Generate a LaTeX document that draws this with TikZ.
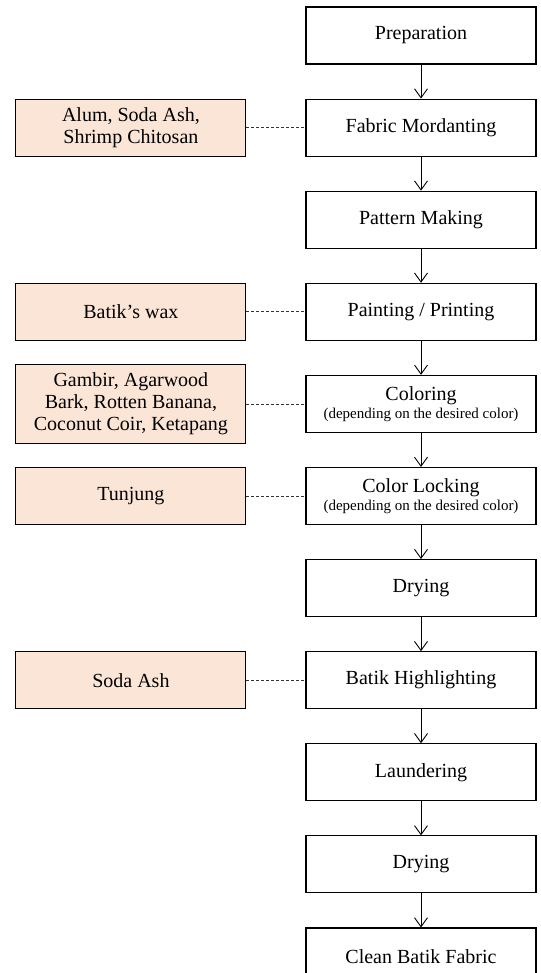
\documentclass[tikz,border=0pt]{standalone}
\usepackage{fontspec}
\setmainfont{Liberation Serif}
\usetikzlibrary{arrows.meta, positioning}

\definecolor{peach}{HTML}{FBE5D6}

\begin{document}
\begin{tikzpicture}
        [
        x=1pt, y=1pt,
        node distance=34pt and 59pt,
        stepbox/.style={draw, rectangle, line width=1.1pt, minimum width=230pt, minimum height=57pt,
            align=center, font=\fontsize{20}{22}\selectfont, inner sep=2pt},
        matbox/.style={stepbox, fill=peach},
        arrow/.style={-{Straight Barb[length=9pt, width=13pt]}, line width=0.9pt},
        link/.style={dashed, dash pattern=on 3pt off 2pt, line width=0.8pt, black!80}
        ]

        \useasboundingbox (0,0) rectangle (540,-973);

        \node[stepbox] (prep) at (421,-35.5) {Preparation};
        \node[stepbox] (mord) [below=of prep] {Fabric Mordanting};
        \node[stepbox] (pattern) [below=of mord] {Pattern Making};
        \node[stepbox] (paint) [below=of pattern] {Painting / Printing};
        \node[stepbox] (color) [below=of paint]
            {Coloring\\[-4pt]{\fontsize{15}{17}\selectfont (depending on the desired color)}};
        \node[stepbox] (lock) [below=of color]
            {Color Locking\\[-4pt]{\fontsize{15}{17}\selectfont (depending on the desired color)}};
        \node[stepbox] (dry) [below=of lock] {Drying};
        \node[stepbox] (high) [below=of dry] {Batik Highlighting};
        \node[stepbox] (laund) [below=of high] {Laundering};
        \node[stepbox] (dry2) [below=of laund] {Drying};
        \node[stepbox] (clean) [below=of dry2] {Clean Batik Fabric};

        % Materials
        \node[matbox] (alum) [left=of mord] {Alum, Soda Ash,\\Shrimp Chitosan};
        \node[matbox] (wax) [left=of paint] {Batik’s wax};
        \node[matbox, minimum height=79pt] (dyes) [left=of color]
            {Gambir, Agarwood\\Bark, Rotten Banana,\\Coconut Coir, Ketapang};
        \node[matbox] (tunjung) [left=of lock] {Tunjung};
        \node[matbox] (soda) [left=of high] {Soda Ash};

        % Edges
        \draw [arrow] (prep) -- (mord);
        \draw [arrow] (mord) -- (pattern);
        \draw [arrow] (pattern) -- (paint);
        \draw [arrow] (paint) -- (color);
        \draw [arrow] (color) -- (lock);
        \draw [arrow] (lock) -- (dry);
        \draw [arrow] (dry) -- (high);
        \draw [arrow] (high) -- (laund);
        \draw [arrow] (laund) -- (dry2);
        \draw [arrow] (dry2) -- (clean);

        \draw [link] (alum) -- (mord);
        \draw [link] (wax) -- (paint);
        \draw [link] (dyes) -- (color);
        \draw [link] (tunjung) -- (lock);
        \draw [link] (soda) -- (high);

    \end{tikzpicture}
\end{document}
